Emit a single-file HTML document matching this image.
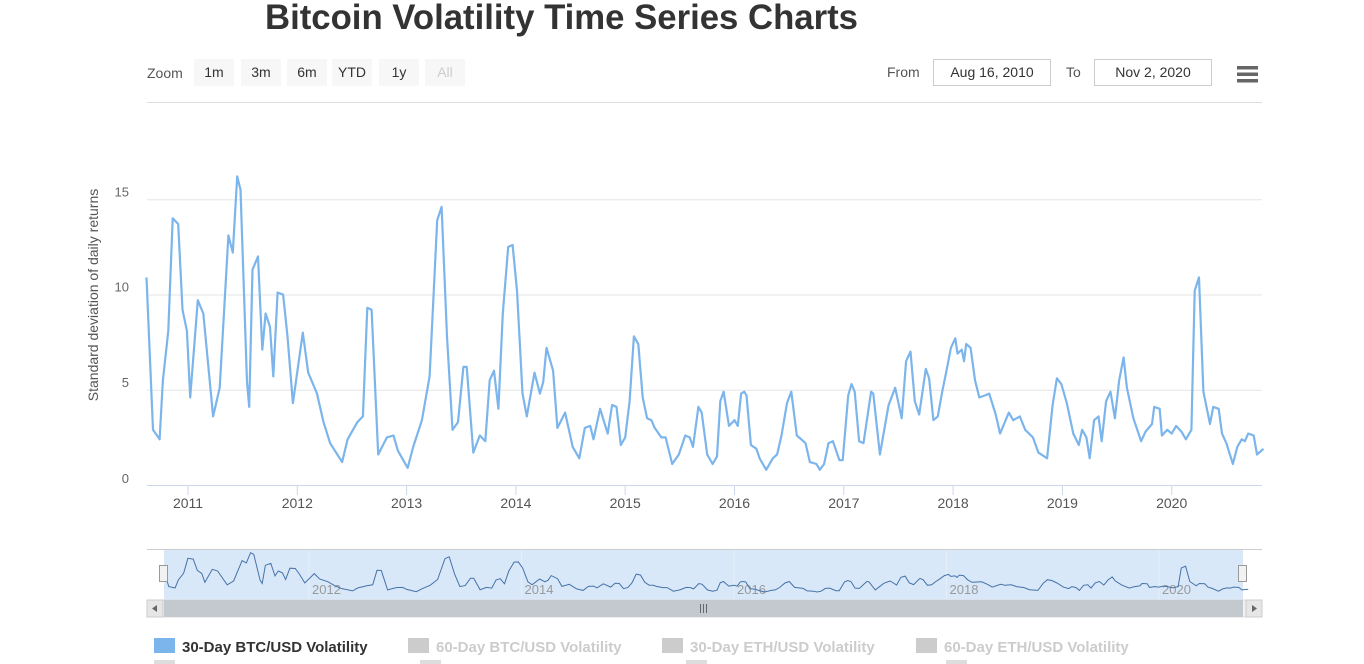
<!DOCTYPE html>
<html><head><meta charset="utf-8">
<style>
html,body{margin:0;padding:0;background:#fff;width:1364px;height:664px;overflow:hidden;font-family:"Liberation Sans",sans-serif;}
svg{display:block}
</style></head>
<body>
<svg id="chart" width="1364" height="664" xmlns="http://www.w3.org/2000/svg">
<text x="265" y="29" font-size="35" font-weight="bold" fill="#333" textLength="593" lengthAdjust="spacingAndGlyphs">Bitcoin Volatility Time Series Charts</text>
<text x="147" y="78" font-size="14" fill="#555">Zoom</text>
<g font-size="14" fill="#333" text-anchor="middle">
<rect x="194" y="59" width="40" height="27" fill="#f7f7f7"/><text x="214" y="77">1m</text>
<rect x="241" y="59" width="40" height="27" fill="#f7f7f7"/><text x="261" y="77">3m</text>
<rect x="287" y="59" width="40" height="27" fill="#f7f7f7"/><text x="307" y="77">6m</text>
<rect x="332" y="59" width="40" height="27" fill="#f7f7f7"/><text x="352" y="77">YTD</text>
<rect x="379" y="59" width="40" height="27" fill="#f7f7f7"/><text x="399" y="77">1y</text>
<rect x="425" y="59" width="40" height="27" fill="#f7f7f7"/><text x="445" y="77" fill="#ccc">All</text>
</g>
<text x="887" y="77" font-size="14" fill="#555">From</text>
<rect x="933.5" y="59.5" width="117" height="26" fill="#fff" stroke="#ccc"/>
<text x="992" y="77" font-size="14" fill="#333" text-anchor="middle">Aug 16, 2010</text>
<text x="1066" y="77" font-size="14" fill="#555">To</text>
<rect x="1094.5" y="59.5" width="117" height="26" fill="#fff" stroke="#ccc"/>
<text x="1153" y="77" font-size="14" fill="#333" text-anchor="middle">Nov 2, 2020</text>
<g fill="#666"><rect x="1237" y="66" width="21" height="3.5"/><rect x="1237" y="72.5" width="21" height="3.5"/><rect x="1237" y="79" width="21" height="3.5"/></g>
<line x1="147" y1="102.5" x2="1262" y2="102.5" stroke="#ddd"/>
<text transform="translate(98,295) rotate(-90)" font-size="14" fill="#555" text-anchor="middle">Standard deviation of daily returns</text>
<g id="grid"></g><g id="main"></g>
<g id="nav"></g>
<g font-size="15" font-weight="bold">
<rect x="154" y="638" width="21" height="15" fill="#7cb5ec"/><text x="182" y="652" fill="#333">30-Day BTC/USD Volatility</text>
<rect x="408" y="638" width="21" height="15" fill="#ccc"/><text x="436" y="652" fill="#ccc">60-Day BTC/USD Volatility</text>
<rect x="662" y="638" width="21" height="15" fill="#ccc"/><text x="690" y="652" fill="#ccc">30-Day ETH/USD Volatility</text>
<rect x="916" y="638" width="21" height="15" fill="#ccc"/><text x="944" y="652" fill="#ccc">60-Day ETH/USD Volatility</text>
<rect x="154" y="660" width="21" height="15" fill="#ddd"/><rect x="420" y="660" width="21" height="15" fill="#ddd"/><rect x="686" y="660" width="21" height="15" fill="#ddd"/><rect x="946" y="660" width="21" height="15" fill="#ddd"/>
</g>
</svg>
<script>
const years = [2010.62,2010.68,2010.74,2010.77,2010.82,2010.86,2010.91,2010.95,2010.99,2011.02,2011.09,2011.14,2011.23,2011.29,2011.37,2011.41,2011.45,2011.48,2011.54,2011.56,2011.59,2011.64,2011.68,2011.71,2011.75,2011.78,2011.82,2011.87,2011.91,2011.96,2012.05,2012.10,2012.18,2012.24,2012.30,2012.41,2012.46,2012.55,2012.60,2012.64,2012.68,2012.74,2012.82,2012.88,2012.92,2013.01,2013.06,2013.14,2013.21,2013.28,2013.32,2013.37,2013.42,2013.47,2013.52,2013.55,2013.61,2013.67,2013.72,2013.76,2013.80,2013.84,2013.88,2013.93,2013.97,2014.01,2014.06,2014.10,2014.17,2014.22,2014.25,2014.28,2014.34,2014.38,2014.45,2014.52,2014.58,2014.63,2014.68,2014.71,2014.77,2014.84,2014.88,2014.92,2014.96,2015.00,2015.04,2015.08,2015.12,2015.16,2015.20,2015.24,2015.27,2015.33,2015.37,2015.43,2015.49,2015.55,2015.59,2015.62,2015.67,2015.70,2015.75,2015.80,2015.84,2015.87,2015.90,2015.95,2016.00,2016.03,2016.06,2016.09,2016.11,2016.15,2016.20,2016.23,2016.29,2016.35,2016.39,2016.43,2016.48,2016.52,2016.57,2016.65,2016.69,2016.75,2016.78,2016.82,2016.86,2016.90,2016.96,2016.99,2017.04,2017.07,2017.10,2017.14,2017.18,2017.25,2017.27,2017.33,2017.41,2017.47,2017.53,2017.57,2017.61,2017.65,2017.69,2017.75,2017.78,2017.82,2017.86,2017.90,2017.94,2017.98,2018.02,2018.04,2018.08,2018.10,2018.12,2018.16,2018.20,2018.24,2018.29,2018.33,2018.39,2018.43,2018.51,2018.55,2018.61,2018.66,2018.73,2018.78,2018.86,2018.91,2018.95,2018.99,2019.04,2019.10,2019.15,2019.18,2019.22,2019.25,2019.29,2019.33,2019.36,2019.40,2019.44,2019.48,2019.52,2019.56,2019.59,2019.65,2019.72,2019.76,2019.82,2019.84,2019.89,2019.91,2019.96,2020.00,2020.04,2020.09,2020.13,2020.18,2020.21,2020.25,2020.29,2020.35,2020.38,2020.43,2020.46,2020.50,2020.56,2020.60,2020.64,2020.67,2020.70,2020.75,2020.78,2020.84];
const values = [10.9,2.9,2.4,5.5,8.1,14.0,13.7,9.2,8.1,4.6,9.7,9.0,3.6,5.1,13.1,12.2,16.2,15.5,5.4,4.1,11.3,12.0,7.1,9.0,8.3,5.7,10.1,10.0,7.8,4.3,8.0,5.9,4.8,3.3,2.2,1.2,2.4,3.3,3.6,9.3,9.2,1.6,2.5,2.6,1.8,0.9,2.0,3.4,5.7,13.9,14.6,7.8,2.9,3.3,6.2,6.2,1.7,2.6,2.3,5.5,6.0,4.0,9.0,12.5,12.6,10.2,4.8,3.6,5.9,4.8,5.4,7.2,6.0,3.0,3.8,2.0,1.4,3.0,3.1,2.4,4.0,2.7,4.2,4.1,2.1,2.5,4.4,7.8,7.4,4.6,3.5,3.4,3.0,2.5,2.5,1.1,1.6,2.6,2.5,2.0,4.1,3.8,1.6,1.1,1.5,4.4,4.9,3.1,3.4,3.1,4.8,4.9,4.7,2.1,1.9,1.4,0.8,1.4,1.6,2.6,4.3,4.9,2.6,2.2,1.2,1.1,0.8,1.1,2.2,2.3,1.3,1.3,4.7,5.3,4.9,2.3,2.2,4.9,4.8,1.6,4.2,5.1,3.5,6.5,7.0,4.4,3.7,6.1,5.6,3.4,3.6,4.9,6.0,7.2,7.7,6.9,7.1,6.5,7.4,7.2,5.5,4.6,4.7,4.8,3.7,2.7,3.8,3.4,3.6,2.9,2.5,1.7,1.4,4.2,5.6,5.3,4.3,2.7,2.1,2.9,2.5,1.4,3.4,3.6,2.3,4.4,4.9,3.5,5.5,6.7,5.1,3.5,2.3,2.8,3.2,4.1,4.0,2.6,2.9,2.7,3.1,2.8,2.4,2.9,10.2,10.9,4.9,3.2,4.1,4.0,2.7,2.2,1.1,2.0,2.4,2.3,2.7,2.6,1.6,1.9];
const yTicks = [0,5,10,15];
const xTickYears = [2011,2012,2013,2014,2015,2016,2017,2018,2019,2020];
const navTickYears = [2012,2014,2016,2018,2020];

const NS="http://www.w3.org/2000/svg";
function xs(y){return 188+(y-2011)*109.3;}
function ys(v){return 485-v*19.05;}
function nx(y){return 309+(y-2012)*106.25;}
function ny(v){return 594-v*2.55;}
function mk(tag,attrs,parent){const e=document.createElementNS(NS,tag);for(const k in attrs)e.setAttribute(k,attrs[k]);parent.appendChild(e);return e;}

const grid=document.getElementById('grid');
yTicks.forEach(t=>{
  const l=mk('line',{x1:147,x2:1262,y1:ys(t)+0.5,y2:ys(t)+0.5,stroke:t===0?'#ccd6eb':'#e6e6e6'},grid);
  
  
  const tx=mk('text',{x:129,y:ys(t)+(t===0?-2:-3),'font-size':13,fill:'#666','text-anchor':'end'},grid);
  tx.textContent=t;
  
  
});
xTickYears.forEach(t=>{
  const l=mk('line',{x1:xs(t),x2:xs(t),y1:485,y2:495,stroke:'#ccd6eb'},grid);
  
  
  const tx=mk('text',{x:xs(t),y:508,'font-size':14,fill:'#555','text-anchor':'middle'},grid);
  tx.textContent=t;
  
  
});
const main=document.getElementById('main');
const p=mk('path',{d:years.map((y,i)=>(i?'L':'M')+xs(y).toFixed(1)+' '+ys(values[i]).toFixed(1)).join(''),fill:'none',stroke:'#7cb5ec','stroke-width':2.2,'stroke-linejoin':'round'},main);



const nav=document.getElementById('nav');
const nb=mk('rect',{x:147,y:550,width:1115,height:50,fill:'#fff'},nav);


mk('line',{x1:147,x2:1262,y1:549.5,y2:549.5,stroke:'#ccc'},nav);
const sel=mk('rect',{x:164,y:550,width:1079,height:50,fill:'#d9e8f9'},nav);


navTickYears.forEach(t=>{
  mk('line',{x1:nx(t),x2:nx(t),y1:550,y2:600,stroke:'#e6eef8'},nav);
  const tx=mk('text',{x:nx(t)+3,y:594,'font-size':13,fill:'#999'},nav);
  tx.textContent=t;
  
  
});
const np=mk('path',{d:years.map((y,i)=>(i?'L':'M')+nx(y).toFixed(1)+' '+ny(values[i]).toFixed(1)).join(''),fill:'none',stroke:'#4572a7','stroke-width':1},nav);


[164,1243].forEach((hx,i)=>{
  const h=mk('rect',{x:hx-4.5,y:565.5,width:8,height:16,fill:'#f2f2f2',stroke:'#999'},nav);
  
  
});
const sb=mk('rect',{x:147,y:600,width:1115,height:17,fill:'#f2f2f2',stroke:'#ddd'},nav);


const th=mk('rect',{x:164,y:600,width:1079,height:17,fill:'#c4c9d0'},nav);


const la=mk('rect',{x:147,y:600,width:16,height:17,fill:'#e6e6e6',stroke:'#ccc'},nav);


mk('path',{d:'M157 605 L152 608.5 L157 612 Z',fill:'#666'},nav);
const ra=mk('rect',{x:1246,y:600,width:16,height:17,fill:'#e6e6e6',stroke:'#ccc'},nav);


mk('path',{d:'M1252 605 L1257 608.5 L1252 612 Z',fill:'#666'},nav);
[700,703,706].forEach(gx=>mk('line',{x1:gx+0.5,x2:gx+0.5,y1:604,y2:613,stroke:'#666'},nav));
</script>
</body></html>
